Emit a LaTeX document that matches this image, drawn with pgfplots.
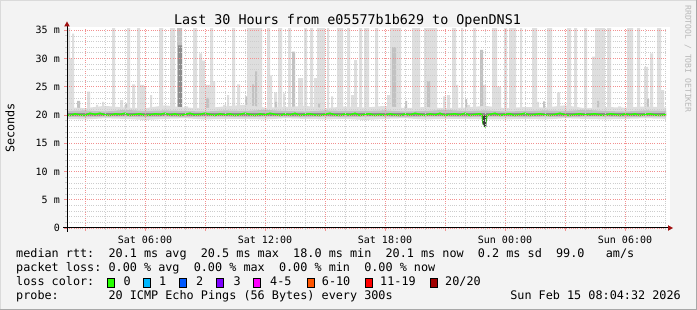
\documentclass[border=0pt]{standalone}
\usepackage{fontspec}
\setmainfont{DejaVu Sans Mono}
\usepackage{pgfplots}
\pgfplotsset{compat=1.18}
\usepackage{pgfplotstable}
\definecolor{bgc}{HTML}{F3F3F3}
\definecolor{smokeA}{HTML}{DEDEDE}
\definecolor{smokeB}{HTML}{C2C2C2}
\definecolor{smokeC}{HTML}{8C8C8C}
\definecolor{smokeD}{HTML}{3A3A3A}
\definecolor{medgreen}{HTML}{26FF00}
\definecolor{mgridc}{HTML}{F29090}
\definecolor{gridc}{HTML}{CDCDCD}
\definecolor{arrowc}{HTML}{A01010}
\definecolor{lone}{HTML}{00B8FF}
\definecolor{ltwo}{HTML}{0059FF}
\definecolor{lthree}{HTML}{7E00FF}
\definecolor{lfour}{HTML}{FF00FF}
\definecolor{lsix}{HTML}{FF5500}
\definecolor{leleven}{HTML}{FF0000}
\definecolor{ltwenty}{HTML}{A10000}
\definecolor{wm}{HTML}{B8B8B8}
\definecolor{shadeA}{HTML}{DADADA}
\definecolor{shadeB}{HTML}{A8A8A8}

% light smoke: outer band (polygon: lower edge, then upper edge back)
\pgfplotstableread{
t y
2.0 19.3
3 19.2
4 19.4
5 19.3
6 19.1
7 19.3
8 19.4
9 19.2
10 19.3
11 19.3
12 19.2
13 19.4
14 19.3
15 19.2
16 19.3
17 19.1
18 19.3
19 19.4
20 19.2
21 19.3
22 19.3
23 19.2
24 19.2
25 19.3
26 19.2
27 19.4
28 19.3
29 19.2
30 19.3
31 19.4
32.2 19.3
32.2 21.3
31 21.5
30 21.3
29 21.4
28 21.2
27 21.7
26 21.3
25 21.4
24 21.2
23 21.6
22 21.3
21 21.2
20 21.4
19 21.2
18 21.6
17 21.3
16 21.5
15 21.2
14 21.6
13 21.4
12 21.3
11 21.8
10 21.5
9 21.2
8 21.3
7 21.7
6 21.2
5 21.3
4 21.6
3 21.2
2.0 21.4
}\bandA

\pgfplotstableread{
t y
2.0 19.7
3 19.6
4 19.7
5 19.7
6 19.6
7 19.7
8 19.6
9 19.7
10 19.7
11 19.6
12 19.7
13 19.7
14 19.6
15 19.7
16 19.6
17 19.7
18 19.7
19 19.6
20 19.7
21 19.7
22 19.6
23 19.7
24 19.7
25 19.6
26 19.7
27 19.6
28 19.7
29 19.7
30 19.6
31 19.7
32.2 19.7
32.2 20.7
31 20.8
30 20.6
29 20.7
28 20.9
27 20.7
26 20.8
25 20.7
24 20.6
23 20.8
22 20.7
21 20.9
20 20.7
19 20.6
18 20.8
17 20.7
16 20.7
15 20.8
14 20.6
13 20.7
12 20.9
11 20.7
10 20.8
9 20.6
8 20.7
7 20.8
6 20.7
5 20.9
4 20.6
3 20.8
2.0 20.7
}\bandB

\pgfplotstableread{
t y
2.0 19.85
32.2 19.85
32.2 20.4
2.0 20.4
}\bandC

% spikes of the slowest pings (step data: value held until next t)
\pgfplotstableread{
t y
2.00 20.6
2.10 35.5
2.25 30.0
2.35 34.4
2.45 20.6
3.10 24.1
3.25 20.6
3.55 21.8
3.65 20.6
3.85 22.3
3.95 20.6
4.35 35.5
4.50 20.6
4.75 22.6
4.90 20.6
4.95 21.7
5.10 35.5
5.25 20.6
5.35 25.4
5.50 20.6
5.60 35.5
5.75 25.3
5.95 25.0
6.05 20.6
6.25 23.5
6.35 20.6
6.70 35.5
6.90 20.6
6.95 21.5
7.05 20.6
7.25 35.5
7.50 20.6
7.95 21.5
8.15 20.6
8.40 35.5
8.60 20.6
8.70 30.9
8.85 29.6
9.00 25.3
9.25 35.5
9.40 26.0
9.50 20.6
9.90 21.8
10.05 20.6
10.10 23.5
10.20 20.6
10.35 35.5
10.50 20.6
10.60 25.4
10.75 20.6
11.10 35.5
11.85 20.6
12.10 35.5
12.25 27.0
12.35 20.6
12.45 24.0
12.60 20.6
12.65 35.5
12.85 20.6
12.90 23.8
13.00 20.6
13.15 35.5
13.30 20.6
13.65 26.5
13.90 20.6
13.95 35.5
14.10 20.6
14.25 35.5
14.40 20.6
14.45 26.5
14.60 35.5
15.00 20.6
15.10 35.5
15.20 20.6
15.30 23.3
15.40 20.6
15.60 35.5
15.90 20.6
16.10 35.5
16.25 20.6
16.30 23.5
16.45 29.7
16.60 20.6
16.70 35.5
16.85 20.6
16.95 35.5
17.20 20.6
17.50 35.5
17.65 20.6
18.10 23.5
18.25 35.5
18.80 20.6
18.95 21.5
19.10 20.6
19.35 35.5
19.75 20.6
19.95 35.5
20.60 20.6
20.90 23.3
21.05 20.6
21.10 23.5
21.25 20.6
21.35 35.5
21.55 25.3
21.65 20.6
21.80 35.5
21.90 20.6
22.10 21.8
22.25 20.6
22.40 35.5
22.55 20.6
22.90 25.3
23.05 20.6
23.35 35.5
23.60 25.0
23.80 20.6
23.95 35.5
24.10 20.6
24.20 35.5
24.55 20.6
24.75 35.5
24.85 20.6
25.35 35.5
25.60 22.3
25.70 20.6
26.10 35.5
26.35 20.6
26.60 24.0
26.75 20.6
27.10 35.5
27.30 20.6
27.45 35.5
27.60 20.6
27.95 35.5
28.10 20.6
28.35 30.3
28.50 35.5
29.00 20.6
29.10 35.5
29.30 20.6
29.65 21.5
29.80 20.6
30.10 35.5
30.40 20.6
30.60 35.5
30.75 20.6
30.95 28.5
31.15 20.6
31.25 30.9
31.40 20.6
31.60 35.5
31.80 24.4
31.95 20.6
32.20 20.6
}\spikesA

\pgfplotstableread{
t y
2.00 20.6
2.60 22.5
2.75 20.6
5.00 22.0
5.10 20.6
7.60 35.5
7.85 20.6
9.05 23.0
9.20 20.6
11.00 23.3
11.10 20.6
11.35 25.4
11.45 20.6
11.50 27.7
11.60 20.6
12.50 22.3
12.60 20.6
13.35 31.2
13.50 20.6
14.65 22.0
14.75 20.6
18.35 32.0
18.55 20.6
19.00 22.5
19.10 20.6
20.10 26.0
20.25 20.6
22.00 22.8
22.10 20.6
22.75 31.5
22.90 20.6
25.90 22.4
26.00 20.6
28.60 22.5
28.70 20.6
31.10 22.8
31.20 20.6
32.20 20.6
}\spikesB

\pgfplotstableread{
t y
2.00 20.6
7.65 32.3
7.85 20.6
32.20 20.6
}\spikesC

\pgfplotstableread{
t y
22.88 19.9
22.88 18.3
22.95 18.3
22.95 17.9
23.07 17.9
23.07 19.9
}\dip

\pgfplotstableread{
t y
2.00 20.1
2.25 19.9
2.50 20.2
2.75 20.0
3.00 19.9
3.25 20.3
3.50 20.1
3.75 20.3
4.00 20.0
4.25 19.9
4.50 20.2
4.75 20.1
5.00 20.3
5.25 19.9
5.50 20.1
5.75 20.2
6.00 19.9
6.25 20.0
6.50 20.2
6.75 20.1
7.00 20.3
7.25 20.0
7.50 20.2
7.75 19.9
8.00 20.1
8.25 20.3
8.50 20.0
8.75 20.1
9.00 20.3
9.25 20.1
9.50 19.9
9.75 20.2
10.00 20.0
10.25 20.2
10.50 19.9
10.75 20.1
11.00 20.3
11.25 20.1
11.50 19.9
11.75 20.2
12.00 20.0
12.25 20.3
12.50 20.1
12.75 19.9
13.00 20.2
13.25 20.0
13.50 20.3
13.75 19.9
14.00 20.1
14.25 20.2
14.50 20.0
14.75 19.9
15.00 20.1
15.25 20.3
15.50 20.0
15.75 19.9
16.00 20.2
16.25 20.0
16.50 20.3
16.75 19.9
17.00 20.1
17.25 20.2
17.50 19.9
17.75 20.1
18.00 19.9
18.25 20.2
18.50 20.0
18.75 19.9
19.00 20.2
19.25 20.0
19.50 20.3
19.75 20.1
20.00 19.9
20.25 20.2
20.50 20.0
20.75 20.3
21.00 19.9
21.25 20.1
21.50 20.2
21.75 20.0
22.00 20.3
22.25 19.9
22.50 20.1
22.75 20.2
22.85 20.0
22.90 18.6
23.00 18.0
23.10 19.9
23.25 20.1
23.50 20.3
23.75 19.9
24.00 20.1
24.25 20.2
24.50 19.9
24.75 20.1
25.00 20.3
25.25 19.9
25.50 20.1
25.75 20.2
26.00 20.0
26.25 19.9
26.50 20.1
26.75 20.3
27.00 20.0
27.25 19.9
27.50 20.1
27.75 20.2
28.00 20.0
28.25 20.1
28.50 20.2
28.75 20.0
29.00 19.9
29.25 20.2
29.50 20.1
29.75 19.9
30.00 20.2
30.25 20.0
30.50 20.2
30.75 19.9
31.00 20.1
31.25 20.2
31.50 20.0
31.75 19.9
32.05 20.1
}\median

\begin{document}
\frenchspacing
\begin{tikzpicture}[x=1pt,y=1pt]
\path[use as bounding box, fill=bgc] (0,0) rectangle (697,310);
\draw[shadeA, line width=1pt] (0.5,0) -- (0.5,309.5) -- (697,309.5);
\draw[shadeB, line width=1pt] (696.5,310) -- (696.5,0.5) -- (0,0.5);
\fill[white] (67,82) rectangle (670,283);
\begin{axis}[
  at={(67pt,82pt)}, anchor=south west,
  scale only axis, width=599pt, height=199pt,
  xmin=2.1, xmax=32.05, ymin=0, ymax=35.2,
  axis lines*=left, axis line style={draw=none},
  axis on top,
  xtick={3,6,...,30},
  xticklabels={,Sat 06:00,,Sat 12:00,,Sat 18:00,,Sun 00:00,,Sun 06:00},
  minor xtick={4,5,7,8,10,11,13,14,16,17,19,20,22,23,25,26,28,29,31,32},
  ytick={0,5,...,35},
  yticklabels={0,5 m,10 m,15 m,20 m,25 m,30 m,35 m},
  minor ytick={1,2,3,4,6,7,8,9,11,12,13,14,16,17,18,19,21,22,23,24,26,27,28,29,31,32,33,34},
  grid=both,
  major grid style={mgridc, dash pattern=on 1pt off 1.2pt, line width=0.6pt},
  minor grid style={gridc, dash pattern=on 1pt off 1.2pt, line width=0.5pt},
  tick align=outside, major tick length=3pt, minor tick length=2pt,
  every major tick/.style={mgridc, line width=0.7pt},
  every minor tick/.style={gridc, line width=0.6pt},
  tick label style={font=\fontsize{10}{12}\selectfont, text=black},
  xticklabel style={anchor=base, inner sep=0pt, yshift=-13pt},
  yticklabel style={anchor=east, inner sep=0pt, xshift=-4pt},
  clip=true,
]
\addplot[fill=smokeA, draw=none, const plot] table[x=t,y=y] {\spikesA};
\addplot[fill=smokeB, draw=none, const plot] table[x=t,y=y] {\spikesB};
\addplot[fill=smokeC, draw=none, const plot] table[x=t,y=y] {\spikesC};
\addplot[fill=smokeA, draw=none] table[x=t,y=y] {\bandA};
\addplot[fill=smokeB, draw=none] table[x=t,y=y] {\bandB};
\addplot[fill=smokeC, draw=none] table[x=t,y=y] {\bandC};
\addplot[medgreen, line width=1.5pt] table[x=t,y=y] {\median};
\addplot[fill=smokeD, draw=none] table[x=t,y=y] {\dip};
\end{axis}
% axis lines and arrows
\draw[black, line width=1pt] (63,82) -- (668,82);
\draw[black, line width=1pt] (67,78) -- (67,284);
\fill[arrowc] (673,82) -- (668,84.8) -- (668,79.2) -- cycle;
\fill[arrowc] (67,288.5) -- (64.2,283.5) -- (69.8,283.5) -- cycle;
% title, labels
\node[anchor=base, inner sep=0pt] at (347.5,285.7) {\fontsize{13.4}{16}\selectfont Last 30 Hours from e05577b1b629 to OpenDNS1};
\node[rotate=90, inner sep=0pt] at (10,182) {\fontsize{11.8}{14}\selectfont Seconds};
\node[rotate=-90, inner sep=0pt, text=wm] at (688,251) {\fontsize{8.1}{10}\selectfont RRDTOOL / TOBI OETIKER};
% legend
\begin{scope}[every node/.style={anchor=base west, inner sep=0pt, font=\fontsize{11.8}{14}\selectfont}]
\node at (16,52) {median rtt:~~20.1 ms avg~~20.5 ms max~~18.0 ms min~~20.1 ms now~~0.2 ms sd~~99.0~~~am/s};
\node at (16,38) {packet loss:~0.00 \% avg~~0.00 \% max~~0.00 \% min~~0.00 \% now};
\node at (16,24.2) {loss color:};
\node at (16,10.5) {probe:~~~~~~~20 ICMP Echo Pings (56 Bytes) every 300s};
\node[anchor=base east] at (681,10.5) {Sun Feb 15 08:04:32 2026};
\foreach \bx/\tx/\col/\lab in {107.8/123.3/medgreen/0, 143.5/159/lone/1, 179.5/196/ltwo/2, 216/233.3/lthree/3, 253/270/lfour/4-5, 307.5/321.7/lsix/6-10, 365.8/380/leleven/11-19, 430.8/445/ltwenty/20{/}20}{
  \filldraw[fill=\col, draw=black, line width=0.8pt] (\bx,23) rectangle ++(7,8.2);
  \node at (\tx,24.2) {\lab};
}
\end{scope}
\end{tikzpicture}
\end{document}
